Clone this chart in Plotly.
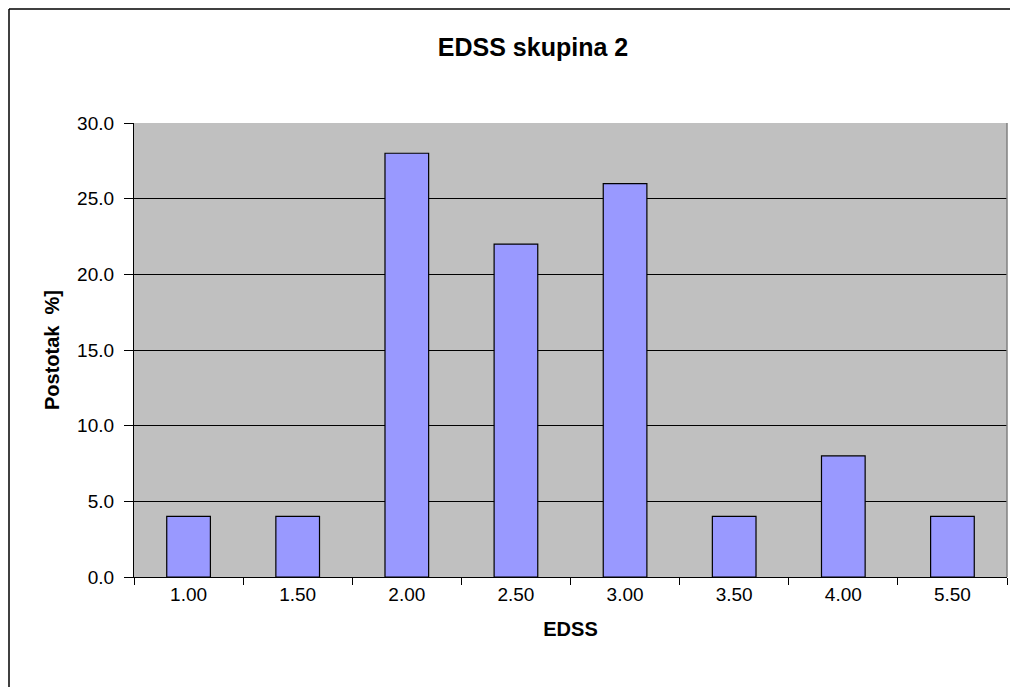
import plotly.graph_objects as go

categories = ["1.00", "1.50", "2.00", "2.50", "3.00", "3.50", "4.00", "5.50"]
values = [4, 4, 28, 22, 26, 4, 8, 4]
title_text = "EDSS skupina 2"
x_title = "EDSS"
y_title = "Postotak  %]"

fig = go.Figure(go.Bar(
    x=categories, y=values,
    marker=dict(color="#9999FF", line=dict(color="#000000", width=1.2)),
    width=0.4,
))

W, H = 1018, 687
OFF = 8  # page body margin
L, R, T, B = 134 - OFF, 19, 123 - OFF, 118
pw, ph = W - L - R, H - T - B

fx0 = (1 - L) / pw
fx1 = (W - L) / pw
fy0 = -B / ph
fy1 = 1 + (T - 1) / ph

fig.update_layout(
    width=W, height=H,
    margin=dict(l=L, r=R, t=T, b=B),
    paper_bgcolor="white",
    plot_bgcolor="#C0C0C0",
    font=dict(family="Liberation Sans, Arial, sans-serif", size=20, color="#000000"),
    title=dict(text="<b>" + title_text + "</b>", x=(533 - OFF) / W, xref="container", xanchor="center",
               y=1 - (47 - OFF) / H, yref="container", yanchor="middle", font=dict(size=25)),
    showlegend=False,
    xaxis=dict(
        type="category", showline=True, linecolor="#000000", linewidth=1.2,
        ticks="outside", tickson="boundaries", ticklen=7, tickcolor="#000000",
        showgrid=False, tickfont=dict(size=19),
        title=dict(text="<b>" + x_title + "</b>", standoff=18, font=dict(size=20)),
    ),
    yaxis=dict(
        range=[0, 30], dtick=5, tickformat=".1f", showline=True, linecolor="#000000",
        linewidth=1.2, ticks="outside", ticklen=9, tickcolor="#000000",
        ticklabelstandoff=6,
        showgrid=True, gridcolor="#000000", gridwidth=1, zeroline=False,
        tickfont=dict(size=19),
        title=dict(text="<b>" + y_title + "</b>", standoff=12, font=dict(size=20)),
    ),
    shapes=[
        dict(type="line", xref="paper", yref="paper", x0=fx0, x1=fx0, y0=fy0, y1=fy1,
             line=dict(color="#000000", width=1.5), layer="below"),
        dict(type="line", xref="paper", yref="paper", x0=fx0, x1=fx1, y0=fy1, y1=fy1,
             line=dict(color="#000000", width=1.5), layer="below"),
        dict(type="line", xref="paper", yref="paper", x0=1, x1=1, y0=0, y1=1,
             line=dict(color="#808080", width=1.5)),
    ],
)

fig.write_html("out.html")
